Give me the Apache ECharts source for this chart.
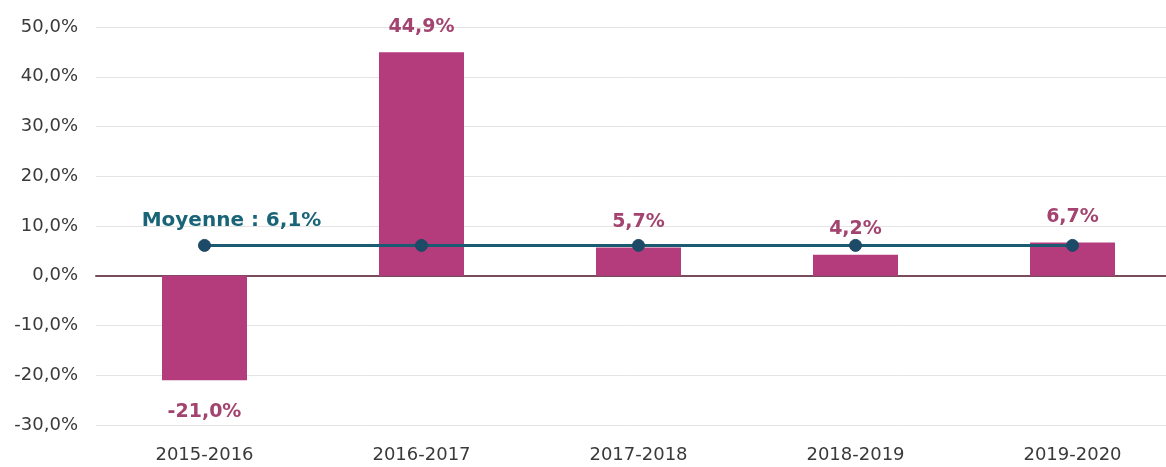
<!DOCTYPE html>
<html>
<head>
<meta charset="utf-8">
<script src="https://cdn.jsdelivr.net/npm/echarts@6/dist/echarts.min.js"></script>
<style>
html,body{margin:0;padding:0;background:#fff;}
#chart{width:1166px;height:467px;}
</style>
</head>
<body>
<div id="chart"></div>
<script>
const categories = ['2015-2016','2016-2017','2017-2018','2018-2019','2019-2020'];
const variations = [-21.0, 44.9, 5.7, 4.2, 6.7];
const moyenne = [6.1, 6.1, 6.1, 6.1, 6.1];
const moyenneLabel = 'Moyenne : 6,1%';

const fmt = v => v.toFixed(1).replace('.', ',') + '%';
const FONT = 'DejaVu Sans';

const chart = echarts.init(document.getElementById('chart'));
chart.setOption({
  animation: false,
  backgroundColor: '#ffffff',
  grid: { left: 96, top: 27, bottom: 42, width: 1085, outerBoundsMode: 'none', containLabel: false },
  xAxis: {
    type: 'category',
    data: categories,
    axisLine: { onZero: true, lineStyle: { color: '#7a4b5c', width: 2 } },
    axisTick: { show: false },
    axisLabel: { color: '#3a3a3a', fontFamily: FONT, fontSize: 18, margin: 21 }
  },
  yAxis: {
    type: 'value',
    min: -30, max: 50, interval: 10,
    axisLine: { show: false },
    axisTick: { show: false },
    splitLine: { lineStyle: { color: '#e4e4e4', width: 1 } },
    axisLabel: { color: '#3a3a3a', fontFamily: FONT, fontSize: 18, margin: 18, formatter: v => fmt(v) }
  },
  series: [
    {
      type: 'bar',
      data: variations.map(v => ({
        value: v,
        label: {
          show: true,
          position: v < 0 ? 'bottom' : 'top',
          distance: v < 0 ? 22 : 16,
          formatter: p => fmt(p.value),
          color: '#a2446f', fontWeight: 'bold', fontFamily: FONT, fontSize: 19
        }
      })),
      barWidth: 85,
      itemStyle: { color: '#b43c7c' },
      z: 2
    },
    {
      type: 'line',
      data: moyenne.map((v, i) => i === 0 ? {
        value: v,
        label: {
          show: true, position: 'top', offset: [27, 0], distance: 8,
          formatter: moyenneLabel,
          color: '#1a6478', fontWeight: 'bold', fontFamily: FONT, fontSize: 20
        }
      } : v),
      symbol: 'circle',
      symbolSize: 12,
      lineStyle: { color: '#1b5b72', width: 3 },
      itemStyle: { color: '#1d4a66', borderColor: '#1d4a66' },
      z: 5
    }
  ]
});
</script>
</body>
</html>
